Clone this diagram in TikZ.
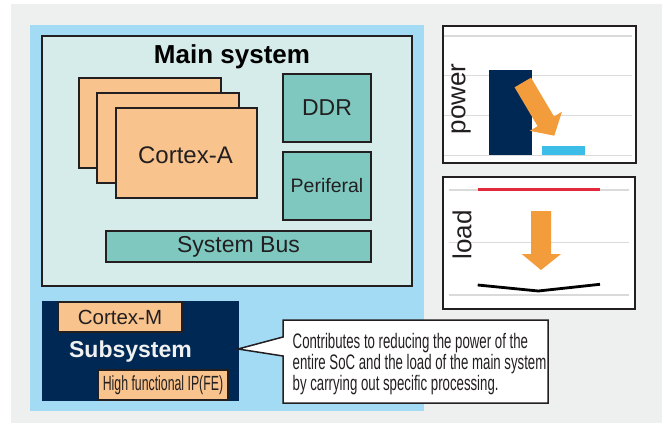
\documentclass[tikz,border=0pt]{standalone}
\usepackage{fontspec}
\setmainfont{Liberation Sans}
\newfontfamily\narrowfont[FakeStretch=0.63]{Liberation Sans}
\newfontfamily\ipfont[FakeStretch=0.6]{Liberation Sans}
\definecolor{bggray}{RGB}{238,240,239}
\definecolor{socblue}{RGB}{163,218,244}
\definecolor{mainbg}{RGB}{214,236,234}
\definecolor{orangebox}{RGB}{249,195,141}
\definecolor{tealbox}{RGB}{126,200,192}
\definecolor{navy}{RGB}{0,40,84}
\definecolor{arroworange}{RGB}{243,156,59}
\definecolor{barblue}{RGB}{59,189,232}
\definecolor{redline}{RGB}{228,40,60}
\definecolor{gridgray}{RGB}{218,218,218}
\definecolor{textdark}{RGB}{35,31,32}
\newcommand{\fs}[1]{\fontsize{#1}{#1}\selectfont}
\tikzset{
  blk/.style={draw=textdark, line width=1.5pt, inner sep=0pt, text=textdark},
  orangeblk/.style={blk, fill=orangebox},
  tealblk/.style={blk, fill=tealbox},
  chartframe/.style={draw=textdark, line width=1.2pt, fill=white},
  grid line/.style={draw=gridgray, line width=1.2pt},
  notetext/.style={anchor=base west, inner sep=0pt, text=textdark, font=\narrowfont\fs{21}},
}
\begin{document}
\begin{tikzpicture}[x=1pt, y=-1pt]
\useasboundingbox (0,0) rectangle (667,425);
\fill[white] (0,0) rectangle (667,425);
\fill[bggray] (11,4) rectangle (662,423);
\fill[socblue] (30,25) rectangle (424,411);

% main system
\node[blk, fill=mainbg, minimum width=370pt, minimum height=250pt] (main) at (227,161) {};
\node[text=black, font=\fs{26}\bfseries] (maintitle) at (232,57) {Main system};
\node[orangeblk, minimum width=142pt, minimum height=90pt] (cA1) at (150,123) {};
\node[orangeblk, minimum width=142pt, minimum height=90pt] (cA2) at (168,138) {};
\node[orangeblk, minimum width=141pt, minimum height=90pt] (cA3) at (186.5,153) {};
\node[text=textdark, font=\fs{24}, inner sep=0pt] (cAtext) at (185.5,155.5) {Cortex-A};
\node[tealblk, minimum width=88pt, minimum height=68pt, font=\fs{23}] (ddr) at (327,108) {DDR};
\node[tealblk, minimum width=88pt, minimum height=68pt, font=\fs{19.5}] (peri) at (327,186) {Periferal};
\node[tealblk, minimum width=265pt, minimum height=31pt, font=\fs{23}] (bus) at (238.5,246.5) {System Bus};

% subsystem
\node[fill=navy, draw=none, minimum width=197pt, minimum height=100pt] (sub) at (140.5,351) {};
\node[orangeblk, minimum width=124pt, minimum height=30pt, font=\fs{20.5}] (cM) at (120,317) {Cortex-M};
\node[text=white!94!black, font=\fs{23}\bfseries] (subtitle) at (130.5,352) {Subsystem};
\node[orangeblk, minimum width=130pt, minimum height=30pt, font=\ipfont\fs{20.5}] (ip) at (163,385) {High functional IP(FE)};

% callout
\coordinate (tip) at (238,349);
\draw[fill=white, draw=textdark, line width=1.5pt, line join=miter]
  (283,320) -- (548,320) -- (548,403) -- (283,403) -- (283,356) -- (tip) -- (283,337) -- cycle;
\node[notetext] (note1) at (292.5,348.3) {Contributes to reducing the power of the};
\node[notetext] (note2) at (292.5,369.3) {entire SoC and the load of the main system};
\node[notetext] (note3) at (292.5,390) {by carrying out specific processing.};

% power chart
\draw[chartframe] (443,26) rectangle (636,163);
\foreach \y in {36,75.7,115.7,155.3} \draw[grid line] (444,\y) -- (632,\y);
\fill[navy] (489,70) rectangle (531.7,155.3);
\fill[barblue] (542,146) rectangle (585,155.3);
\fill[arroworange] (514.6,87.3) -- (537.6,126.2) -- (529.7,130.8) -- (554.3,135.7) -- (561.9,111.8) -- (554.0,116.5) -- (531.0,77.7) -- cycle;
\node[rotate=90, text=textdark, font=\fs{26}] (powerlbl) at (461,99) {power};

% load chart
\draw[chartframe] (443,177) rectangle (635,309);
\foreach \y in {190,242.3,295} \draw[grid line] (449,\y) -- (629,\y);
\draw[redline, line width=3pt] (477.7,190) -- (600,190);
\fill[arroworange] (531,211) -- (551,211) -- (551,254) -- (561,254) -- (541,270) -- (521.7,254) -- (531,254) -- cycle;
\draw[black, line width=2.8pt] (477.7,285) -- (538.3,291) -- (600,284.3);
\node[rotate=90, text=textdark, font=\fs{26}] (loadlbl) at (462,235) {load};
\end{tikzpicture}
\end{document}
